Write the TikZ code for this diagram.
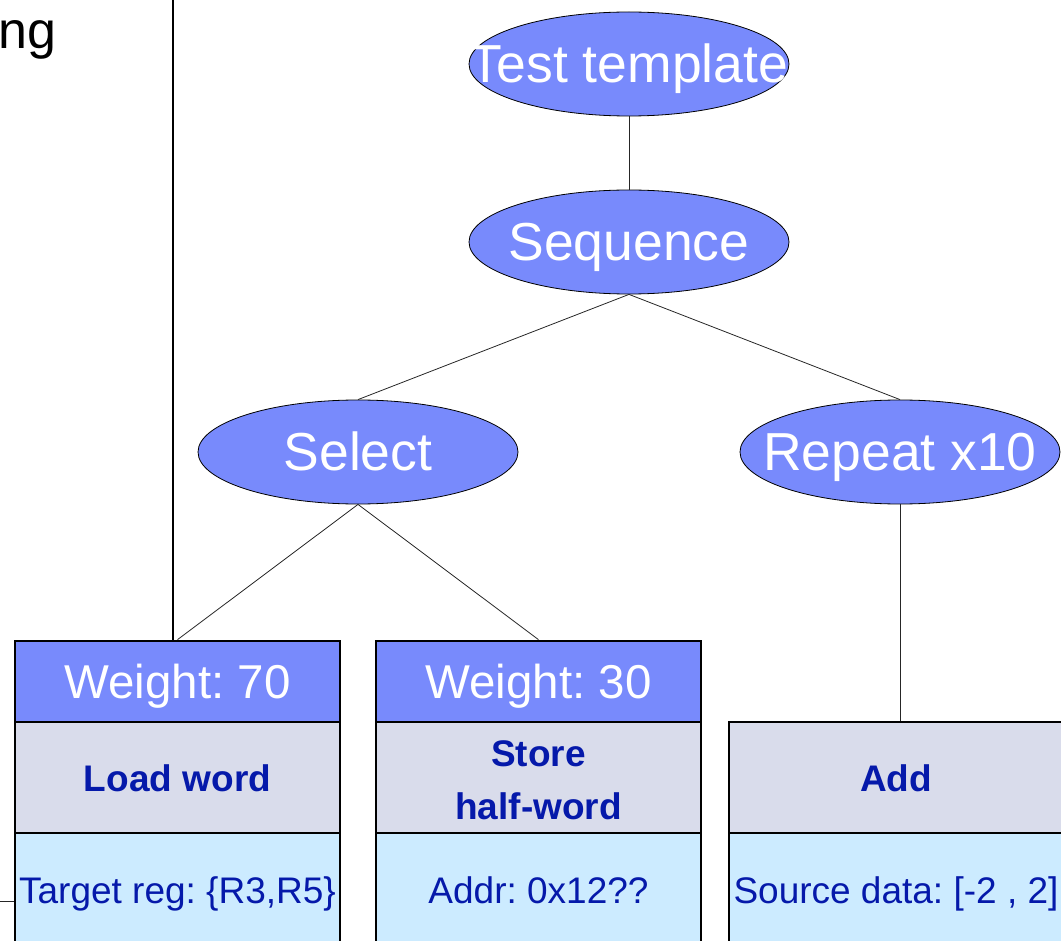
\documentclass[tikz,border=0pt]{standalone}
\usepackage{fontspec}
\setmainfont{Liberation Sans}
\usetikzlibrary{shapes.geometric}
\definecolor{nodeblue}{RGB}{120,138,252}
\definecolor{namegray}{RGB}{217,220,235}
\definecolor{datablue}{RGB}{204,235,255}
\definecolor{textblue}{RGB}{5,25,170}
\frenchspacing
\begin{document}
\begin{tikzpicture}[x=1pt,y=-1pt,
  treenode/.style={ellipse, draw=black, line width=0.8pt, fill=nodeblue,
    minimum width=320pt, minimum height=104pt, inner sep=0pt},
  treetext/.style={text=white, font=\fontsize{53.5}{62}\selectfont,
    text height=38pt, text depth=0pt, inner sep=0pt},
  rowbox/.style={rectangle, draw=black, line width=2.7pt, inner sep=0pt,
    minimum width=325pt},
  weightrow/.style={rowbox, fill=nodeblue, minimum height=81pt, text=white,
    font=\fontsize{47.5}{56}\selectfont, text height=34pt, text depth=0pt},
  namerow/.style={rowbox, fill=namegray, minimum height=111pt, text=textblue,
    font=\fontsize{37}{53}\selectfont\bfseries, align=center},
  datarow/.style={rowbox, fill=datablue, minimum height=114pt, text=textblue,
    font=\fontsize{37}{44}\selectfont, text height=26.5pt, text depth=0pt},
  conn/.style={draw=black!85, line width=0.8pt},
  rule/.style={draw=black, line width=2pt}]
\useasboundingbox (0,0) rectangle (1061,941);
\clip (0,0) rectangle (1061,941);

% tree of test constructs
\node[treenode, label={[treetext]center:Test template}] (tt)  at (629,64)  {};
\node[treenode, label={[treetext]center:Sequence}]      (seq) at (629,242) {};
\node[treenode, label={[treetext]center:Select}]        (sel) at (358,452) {};
\node[treenode, label={[treetext]center:Repeat x10}]    (rep) at (900,452) {};

% instruction boxes
\node[weightrow] (w1) at (177.5,681.5) {Weight: 70};
\node[namerow, text height=28.5pt] (n1) at (177.5,777.5) {Load word};
\node[datarow]   (d1) at (177.5,890)   {Target reg: \{R3,R5\}};

\node[weightrow] (w2) at (538.5,681.5) {Weight: 30};
\node[namerow, text height=85pt] (n2) at (538.5,777.5) {Store\\half-word};
\node[datarow]   (d2) at (538.5,890)   {Addr: 0x12??};

\node[namerow, minimum width=334pt, text height=28.5pt] (n3) at (896,777.5) {Add};
\node[datarow, minimum width=334pt] (d3) at (896,890)   {Source data: [-2 , 2]};

% connectors
\draw[conn] (tt.south) -- (seq.north);
\draw[conn] (seq.south) -- (sel.north);
\draw[conn] (seq.south) -- (rep.north);
\draw[conn] (sel.south) -- (w1.north);
\draw[conn] (sel.south) -- (w2.north);
\draw[conn] (rep.south) -- (rep.south |- n3.north);

% surrounding rules and text
\coordinate (vtop) at (173,0);
\draw[rule] (vtop) -- (vtop |- w1.north);
\coordinate (hleft) at (0,901);
\draw[conn] (hleft) -- (hleft -| d1.west);
\node[anchor=base east, inner sep=0pt, font=\fontsize{52}{60}\selectfont] (ng) at (57,49) {ng};
\end{tikzpicture}
\end{document}
